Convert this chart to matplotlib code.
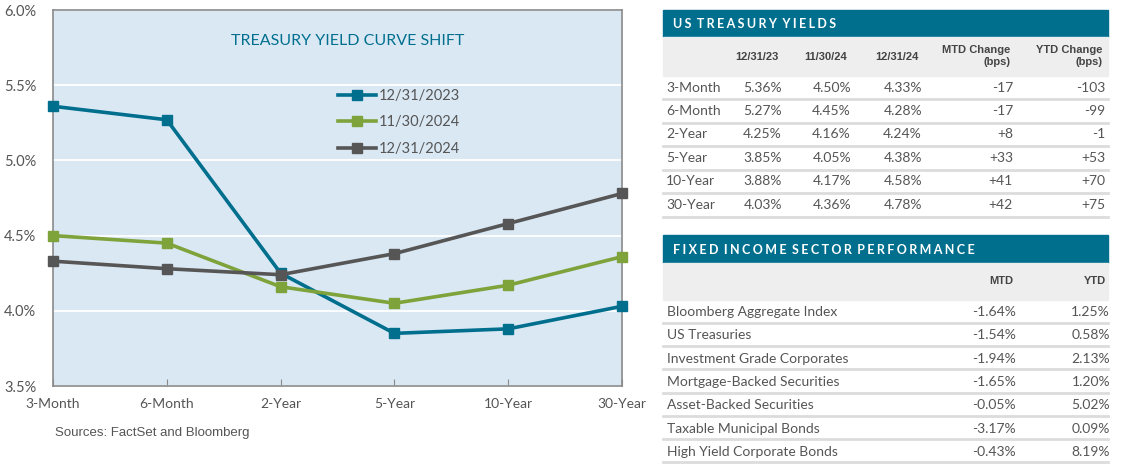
import numpy as np
import matplotlib.pyplot as plt
from matplotlib.patches import Rectangle
from matplotlib.lines import Line2D

# chart data
tenors = ["3-Month", "6-Month", "2-Year", "5-Year", "10-Year", "30-Year"]
yld_2023_12 = [5.36, 5.27, 4.25, 3.85, 3.88, 4.03]
yld_2024_11 = [4.50, 4.45, 4.16, 4.05, 4.17, 4.36]
yld_2024_12 = [4.33, 4.28, 4.24, 4.38, 4.58, 4.78]
series_labels = ["12/31/2023", "11/30/2024", "12/31/2024"]

# treasury table
tbl1_cols = ["12/31/23", "11/30/24", "12/31/24", "MTD Change\n(bps)", "YTD Change\n(bps)"]
mtd_bps = ["-17", "-17", "+8", "+33", "+41", "+42"]
ytd_bps = ["-103", "-99", "-1", "+53", "+70", "+75"]

# sector table
sectors = ["Bloomberg Aggregate Index", "US Treasuries", "Investment Grade Corporates",
           "Mortgage-Backed Securities", "Asset-Backed Securities",
           "Taxable Municipal Bonds", "High Yield Corporate Bonds"]
sector_mtd = ["-1.64%", "-1.54%", "-1.94%", "-1.65%", "-0.05%", "-3.17%", "-0.43%"]
sector_ytd = ["1.25%", "0.58%", "2.13%", "1.20%", "5.02%", "0.09%", "8.19%"]

TEAL = "#006F8E"
GREEN = "#7EA33B"
DGRAY = "#565656"
TXT = "#555555"
FONT = "Lato"

W, H = 1125, 471
fig = plt.figure(figsize=(W / 100, H / 100), dpi=100)


def fx(px):
    return px / W


def fy(py):
    return 1 - py / H


def spaced(s):
    # wide letter spacing for the band titles
    hs = "\u2009\u200a"
    return (" " + hs).join(hs.join(w) for w in s.split(" "))


# ---- yield curve chart ----
ax = fig.add_axes([fx(53), fy(386), fx(622) - fx(53), fy(10) - fy(386)])
ax.set_facecolor("#DAE8F4")
x = np.arange(len(tenors))
for vals, col, lab in zip([yld_2023_12, yld_2024_11, yld_2024_12], [TEAL, GREEN, DGRAY], series_labels):
    ax.plot(x, vals, color=col, lw=2.6, marker="s", ms=7, label=lab, clip_on=False, zorder=3)

ax.set_xlim(0, 5)
ax.set_ylim(3.5, 6.0)
ax.set_yticks([3.5, 4.0, 4.5, 5.0, 5.5, 6.0])
ax.set_yticklabels([f"{v:.1f}%" for v in [3.5, 4.0, 4.5, 5.0, 5.5, 6.0]])
ax.set_xticks(x)
ax.set_xticklabels(tenors)
ax.grid(axis="y", color="white", lw=1.3)
ax.set_axisbelow(True)
for s in ax.spines.values():
    s.set_color("#8A8A8A")
    s.set_linewidth(1.2)
ax.tick_params(axis="x", direction="in", length=5, color="#8A8A8A", pad=9, labelsize=10, labelcolor=TXT)
ax.tick_params(axis="y", length=0, pad=12, labelsize=10.5, labelcolor=TXT)
for t in ax.get_xticklabels() + ax.get_yticklabels():
    t.set_fontfamily(FONT)

ax.text(0.518, 0.918, "TREASURY YIELD CURVE SHIFT", transform=ax.transAxes, ha="center", va="center",
        color=TEAL, fontsize=11.5, fontfamily=FONT)
leg = ax.legend(loc="upper left", bbox_to_anchor=(0.478, 0.825), frameon=False, numpoints=1,
                handlelength=2.6, handletextpad=0.2, labelspacing=0.85, prop={"family": FONT, "size": 10.5})
for t in leg.get_texts():
    t.set_color(TXT)

fig.text(fx(55), fy(433), "Sources: FactSet and Bloomberg", ha="left", va="center",
         fontsize=9.5, color=TXT, fontfamily="Liberation Sans")


# ---- table helpers ----
def band(y0, y1, title):
    fig.patches.append(Rectangle((fx(663), fy(y1)), fx(1108) - fx(663), fy(y0) - fy(y1),
                                 transform=fig.transFigure, color=TEAL, zorder=1))
    fig.text(fx(673), fy((y0 + y1) / 2 + 1), spaced(title), ha="left", va="center", color="white",
             fontsize=9, fontweight="bold", family=[FONT, "DejaVu Sans"])


def gray_row(y0, y1):
    fig.patches.append(Rectangle((fx(663), fy(y1)), fx(1108) - fx(663), fy(y0) - fy(y1),
                                 transform=fig.transFigure, color="#EEEEEE", zorder=1))


def sep(y):
    fig.add_artist(Line2D([fx(663), fx(1108)], [fy(y), fy(y)], color="#DCDCDC", lw=2,
                          transform=fig.transFigure))


# ---- US treasury yields ----
band(10, 37, "US TREASURY YIELDS")
gray_row(37, 76)
hdr_x = [757, 826, 897, 1010, 1102]
for i, c in enumerate(tbl1_cols):
    if "\n" in c:
        fig.text(fx(hdr_x[i]), fy(56), c, ha="right", va="center", fontsize=8, fontweight="bold",
                 color="#444444", fontfamily="Liberation Sans", linespacing=1.15, multialignment="right")
    else:
        fig.text(fx(hdr_x[i]), fy(57), c, ha="center", va="center", fontsize=8, fontweight="bold",
                 color="#444444", fontfamily="Liberation Sans")

row_y = [88, 111, 134, 158, 181, 205]
val_x = [782, 851, 922, 1013, 1105]
for i, ten in enumerate(tenors):
    yy = row_y[i]
    fig.text(fx(666), fy(yy), ten, ha="left", va="center", fontsize=10, color=TXT, fontfamily=FONT)
    vals = [f"{yld_2023_12[i]:.2f}%", f"{yld_2024_11[i]:.2f}%", f"{yld_2024_12[i]:.2f}%", mtd_bps[i], ytd_bps[i]]
    for vx, v in zip(val_x, vals):
        fig.text(fx(vx), fy(yy), v, ha="right", va="center", fontsize=10, color=TXT, fontfamily=FONT)
for sy in [99, 123, 146, 170, 193, 217]:
    sep(sy)

# ---- fixed income sector performance ----
band(235, 263, "FIXED INCOME SECTOR PERFORMANCE")
gray_row(263, 300)
fig.text(fx(1013), fy(281), "MTD", ha="right", va="center", fontsize=8, fontweight="bold",
         color="#444444", fontfamily="Liberation Sans")
fig.text(fx(1106), fy(281), "YTD", ha="right", va="center", fontsize=8, fontweight="bold",
         color="#444444", fontfamily="Liberation Sans")
row_y2 = [312, 335, 359, 382, 405, 429, 452]
for i, s in enumerate(sectors):
    yy = row_y2[i]
    fig.text(fx(667), fy(yy), s, ha="left", va="center", fontsize=10, color=TXT, fontfamily=FONT)
    fig.text(fx(1016), fy(yy), sector_mtd[i], ha="right", va="center", fontsize=10, color=TXT, fontfamily=FONT)
    fig.text(fx(1110), fy(yy), sector_ytd[i], ha="right", va="center", fontsize=10, color=TXT, fontfamily=FONT)
for sy in [323, 346, 369, 393, 416, 439, 462]:
    sep(sy)

fig.savefig("out.png", dpi=100, facecolor="white")
